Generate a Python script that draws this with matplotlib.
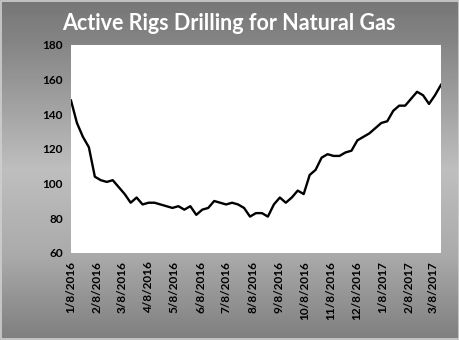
from datetime import date, timedelta

import numpy as np
import matplotlib.pyplot as plt
from matplotlib.patches import Rectangle

# weekly natural gas rig counts, starting Friday 1/8/2016
start = date(2016, 1, 8)
rigs = [148, 135, 127, 121, 104, 102, 101, 102, 98, 94,
        89, 92, 88, 89, 89, 88, 87, 86, 87, 85,
        87, 82, 85, 86, 90, 89, 88, 89, 88, 86,
        81, 83, 83, 81, 88, 92, 89, 92, 96, 94,
        105, 108, 115, 117, 116, 116, 118, 119, 125, 127,
        129, 132, 135, 136, 142, 145, 145, 149, 153, 151,
        146, 151, 157]
weeks = [start + timedelta(weeks=i) for i in range(len(rigs))]

tick_dates = [date(2016 + (m // 12), m % 12 + 1, 8) for m in range(15)]
tick_labels = [f"{d.month}/{d.day}/{d.year}" for d in tick_dates]
y_ticks = [60, 80, 100, 120, 140, 160, 180]

plt.rcParams['font.family'] = ['Lato', 'DejaVu Sans']

fig = plt.figure(figsize=(4.6, 3.4), dpi=100)

# gray vertical gradient behind everything
bg = fig.add_axes([0, 0, 1, 1], zorder=-10)
rows = np.linspace(0, 1, 340)
shade = np.interp(rows, [0, 0.12, 0.5, 0.75, 1.0], [118, 132, 190, 170, 126]) / 255
bg.imshow(np.repeat(shade[:, None], 2, axis=1), cmap='gray', vmin=0, vmax=1,
          aspect='auto', extent=[0, 1, 0, 1], origin='upper')
bg.set_xlim(0, 1)
bg.set_ylim(0, 1)
bg.axis('off')
fig.patches.append(Rectangle((0.002, 0.003), 0.996, 0.994, transform=fig.transFigure,
                             fill=False, edgecolor='#d0d0d0', linewidth=1.2))

ax = fig.add_axes([0.1543, 0.2559, 0.8043, 0.6118])
ax.set_facecolor('white')
ax.plot(weeks, rigs, color='black', linewidth=1.7)

ax.set_ylim(60, 180)
ax.set_yticks(y_ticks)
ax.set_xlim(weeks[0], weeks[-1])
ax.set_xticks(tick_dates)
ax.set_xticklabels(tick_labels, rotation=90)
for lbl in ax.get_xticklabels() + ax.get_yticklabels():
    lbl.set_fontweight('bold')
    lbl.set_fontsize(8.5)
ax.tick_params(length=0, pad=6)
for s in ax.spines.values():
    s.set_visible(False)

fig.text(0.497, 0.93, "Active Rigs Drilling for Natural Gas", color='white',
         fontsize=15.5, fontweight='bold', ha='center', va='center')

fig.savefig('out.png', dpi=100)
